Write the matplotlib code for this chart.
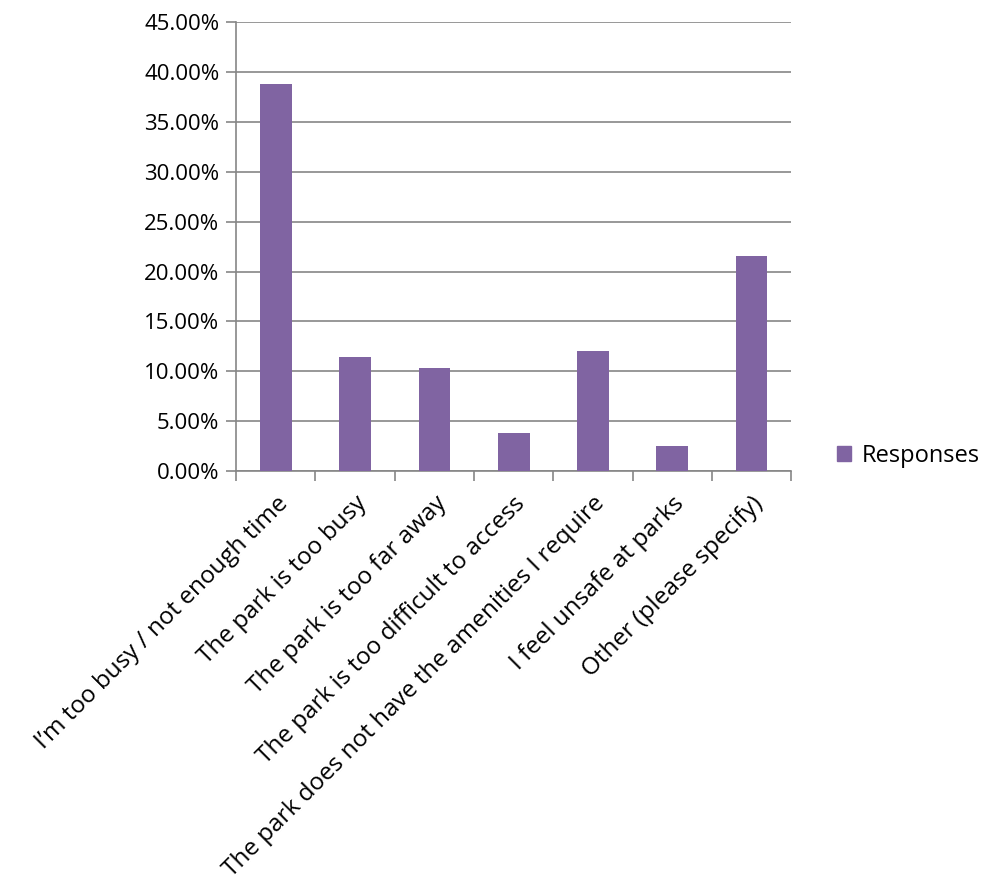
import numpy as np
import matplotlib
matplotlib.use("Agg")
from matplotlib import pyplot as plt
from matplotlib.ticker import FuncFormatter, FixedLocator
import matplotlib.patches as patches

categories = ["I\u2019m too busy / not enough time",
              "The park is too busy",
              "The park is too far away",
              "The park is too difficult to access",
              "The park does not have the amenities I require",
              "I feel unsafe at parks",
              "Other (please specify)"]
responses = [38.8, 11.4, 10.3, 3.8, 12.0, 2.5, 21.6]
y_ticks = [0, 5, 10, 15, 20, 25, 30, 35, 40, 45]

bar_color = "#8064A2"
grid_color = "#868686"

plt.rcParams['font.family'] = ['Open Sans', 'DejaVu Sans']

fig = plt.figure(figsize=(9.84, 8.92), dpi=100)
ax = fig.add_axes([0.240, 0.472, 0.564, 0.503])

x = np.arange(len(categories))
ax.bar(x, responses, width=0.4, color=bar_color, zorder=3, label="Responses")

ax.set_xlim(-0.5, len(categories) - 0.5)
ax.set_ylim(0, 45)
ax.yaxis.set_major_locator(FixedLocator(y_ticks))
ax.yaxis.set_major_formatter(FuncFormatter(lambda v, p: "%.2f%%" % v))
ax.grid(axis="y", color=grid_color, linewidth=1.2, zorder=0)

# category boundaries get the tick marks, labels sit in the middle
ax.set_xticks(np.arange(len(categories) + 1) - 0.5)
ax.set_xticklabels([])
ax.set_xticks(x, minor=True)
ax.set_xticklabels(categories, minor=True, rotation=45, ha="right",
                   va="top", rotation_mode="anchor", fontsize=17.5)
ax.tick_params(axis="x", which="minor", length=0, pad=15)
ax.tick_params(axis="x", which="major", length=7, width=1.2, color=grid_color)
ax.tick_params(axis="y", length=7, width=1.2, color=grid_color, labelsize=16, pad=5)

for side in ["top", "right"]:
    ax.spines[side].set_visible(False)
for side in ["left", "bottom"]:
    ax.spines[side].set_color(grid_color)
    ax.spines[side].set_linewidth(1.2)

fig.legend(handles=[patches.Patch(color=bar_color, label="Responses")],
           loc="center left", bbox_to_anchor=(0.829, 0.489), frameon=False,
           fontsize=17, handlelength=0.6, handleheight=0.6, handletextpad=0.45)

fig.savefig("out.png", dpi=100)
